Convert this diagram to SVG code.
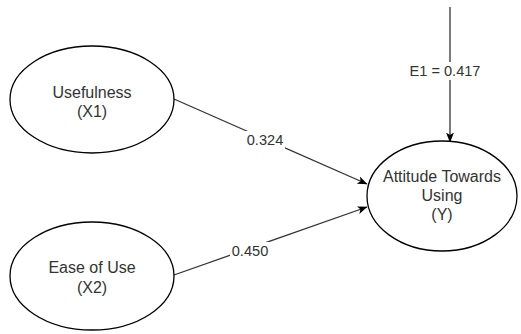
<svg xmlns="http://www.w3.org/2000/svg" width="521" height="334" viewBox="0 0 521 334">
<style>
.node{fill:#fff;stroke:#000;stroke-width:1.3}
.t{font-family:"Liberation Sans",Arial,sans-serif;font-size:16px;fill:#333;text-anchor:middle}
.el{font-family:"Liberation Sans",Arial,sans-serif;font-size:14.6px;fill:#333;text-anchor:middle}
.edge{stroke:#333;stroke-width:1.3;fill:none}
.lbg{fill:#fff}
</style>
<defs>
<marker id="arr" viewBox="0 0 10 8" refX="9.5" refY="4" markerWidth="10" markerHeight="8" markerUnits="userSpaceOnUse" orient="auto">
<path d="M0,0 L10,4 L0,8 L2.5,4 Z" fill="#000"/>
</marker>
</defs>
<rect width="521" height="334" fill="#fff"/>
<g id="connectors">
<line class="edge" x1="174" y1="99" x2="367" y2="184" marker-end="url(#arr)"/>
<line class="edge" x1="174" y1="275" x2="367" y2="207" marker-end="url(#arr)"/>
<line class="edge" x1="450" y1="7" x2="450" y2="142" marker-end="url(#arr)"/>
<rect class="lbg" x="245" y="131" width="40" height="18"/>
<text class="el" x="265" y="145">0.324</text>
<rect class="lbg" x="230" y="242" width="40" height="18"/>
<text class="el" x="250" y="256">0.450</text>
<rect class="lbg" x="408" y="62" width="74" height="18"/>
<text class="el" x="445" y="76">E1 = 0.417</text>
</g>
<g id="usefulness">
<ellipse class="node" cx="92" cy="99.5" rx="82" ry="53.5"/>
<text class="t" x="92" y="97.5">Usefulness</text>
<text class="t" x="92" y="117">(X1)</text>
</g>
<g id="ease">
<ellipse class="node" cx="92" cy="276" rx="82" ry="54"/>
<text class="t" x="92" y="273">Ease of Use</text>
<text class="t" x="92" y="292.5">(X2)</text>
</g>
<g id="attitude">
<ellipse class="node" cx="442" cy="196" rx="75" ry="55"/>
<text class="t" x="442" y="182">Attitude Towards</text>
<text class="t" x="442" y="201">Using</text>
<text class="t" x="442" y="220">(Y)</text>
</g>
</svg>
